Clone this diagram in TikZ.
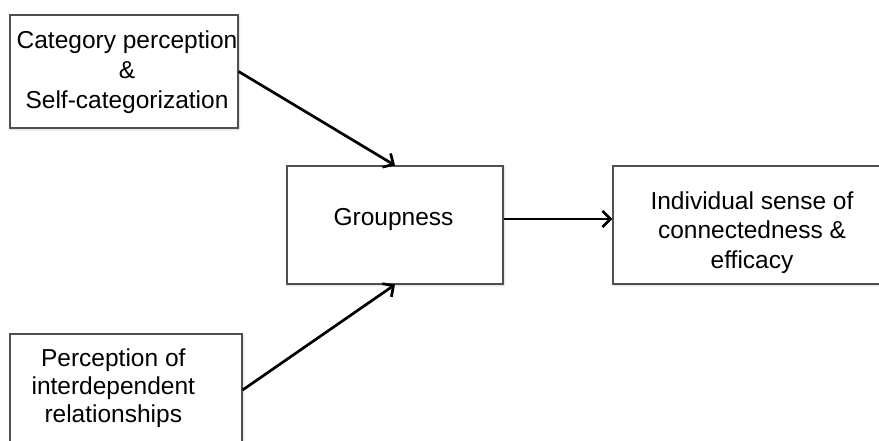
\documentclass[tikz,border=0pt]{standalone}
\usepackage{fontspec}
\setmainfont{Liberation Sans}
\usetikzlibrary{arrows.meta,shadows.blur}
\definecolor{boxline}{RGB}{80,80,80}
\begin{document}
\begin{tikzpicture}[x=1pt,y=-1pt,
  box/.style={rectangle, draw=boxline, line width=1.2pt, fill=white, inner sep=0pt,
    blur shadow={shadow xshift=1pt, shadow yshift=-1.5pt, shadow blur radius=2pt,
      shadow blur steps=4, shadow opacity=20}},
  txt/.style={align=center, inner sep=0pt},
  link/.style={line width=2.7pt, -{Straight Barb[length=8pt,width=16pt]}}]
  \useasboundingbox (0,0) rectangle (879,441);
  \clip (0,0) rectangle (879,441);

  % boxes
  \node[box, minimum width=228pt, minimum height=113pt] (cat) at (124,71.5) {};
  \node[box, minimum width=216pt, minimum height=118pt] (grp) at (395,225) {};
  \node[box, minimum width=278pt, minimum height=118pt] (out) at (752,225) {};
  \node[box, minimum width=232pt, minimum height=112pt] (inter) at (126,390) {};

  % labels
  \node[txt, font=\fontsize{24.5}{30}\selectfont] (catT) at (127,72)
    {Category perception\\\&\\Self-categorization};
  \node[txt, font=\fontsize{24.5}{30}\selectfont] (grpT) at (393.5,219.7) {Groupness};
  \node[txt, font=\fontsize{24.5}{29.5}\selectfont] (outT) at (752,232.5)
    {Individual sense of\\connectedness \&\\efficacy};
  \node[txt, font=\fontsize{24.5}{28}\selectfont] (interT) at (113.3,387.7)
    {Perception of\\interdependent\\relationships};

  % connectors
  \draw[link] (cat.east) -- (grp.north);
  \draw[link] (inter.east) -- (grp.south);
  \draw[link] ([yshift=6pt]grp.east) -- ([yshift=6pt]out.west);
\end{tikzpicture}
\end{document}
